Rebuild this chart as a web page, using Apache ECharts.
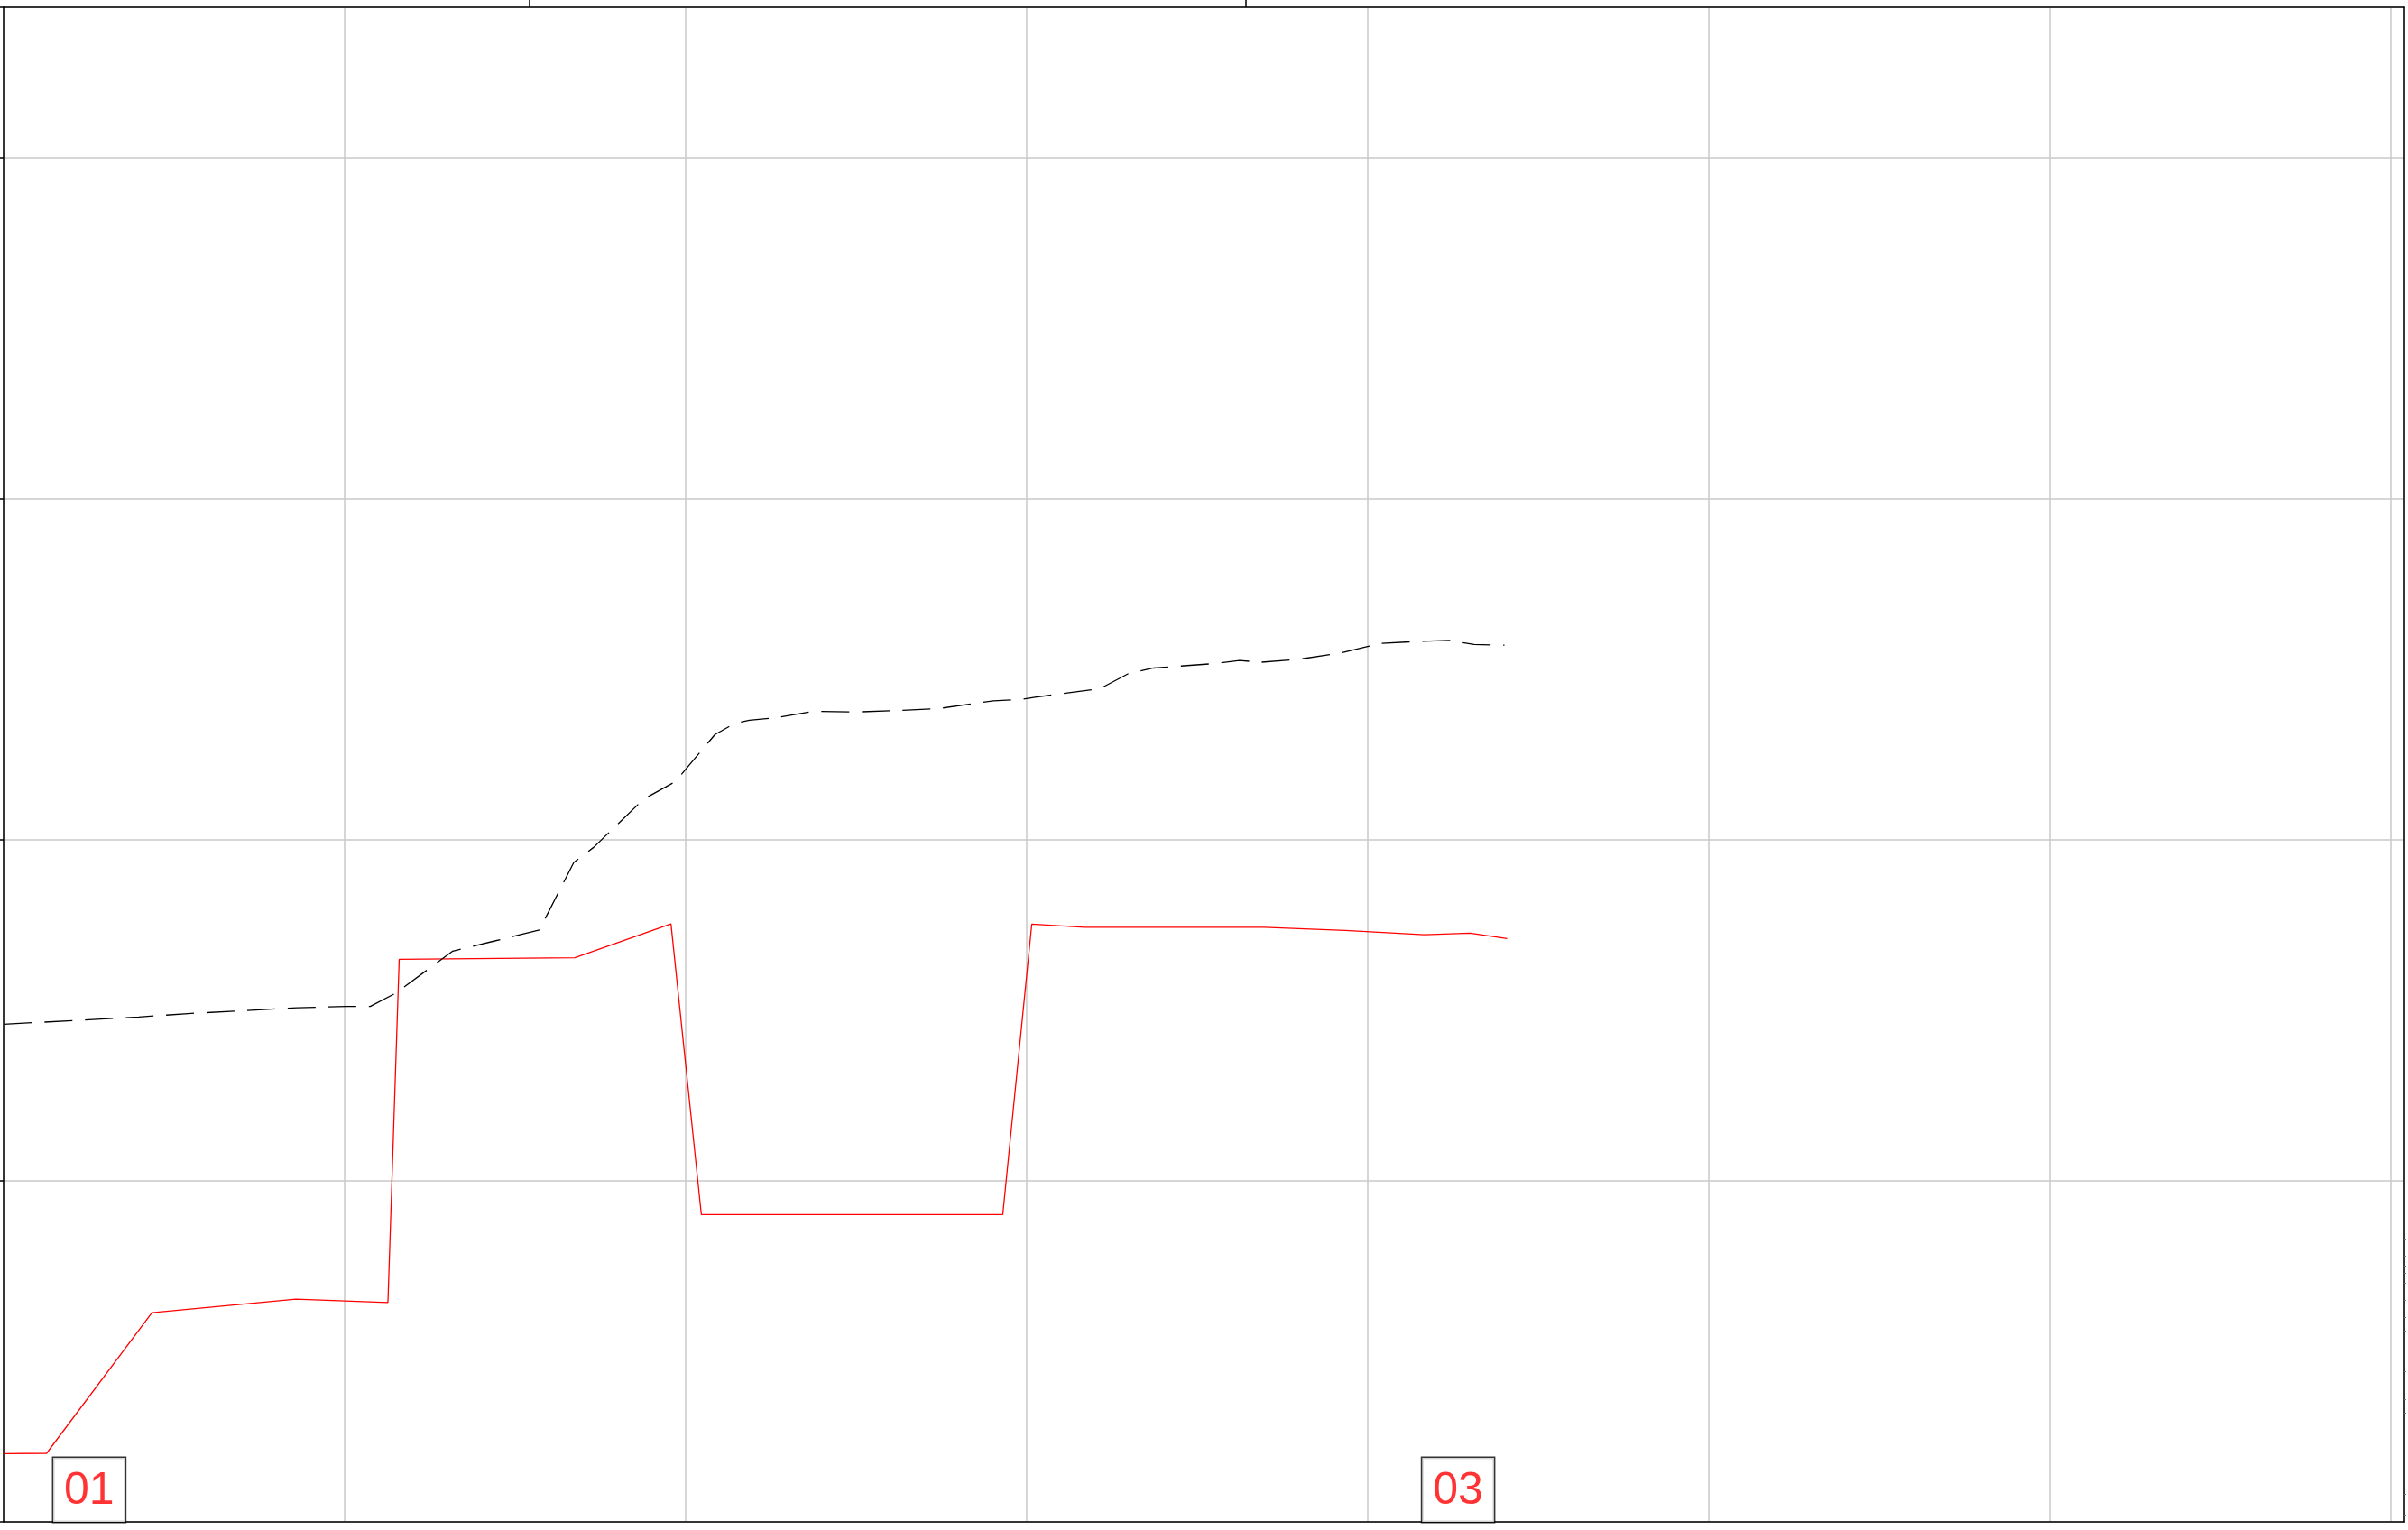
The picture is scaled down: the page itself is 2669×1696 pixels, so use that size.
<!DOCTYPE html>
<html lang="en">

<head>
    <meta charset="UTF-8">
    <title>line chart</title>
    <style>
        *{
            padding:0;
            margin:0;
        }
        html, body{
            background:#fff;
        }
    </style>
    <script type="text/javascript" src="https://cdn.jsdelivr.net/npm/echarts@6/dist/echarts.min.js"></script>
</head>

<body>
    <div id="main" style="width: 2669px;height:1696px;"></div>
    <script type="text/javascript">
        // red solid line
        var redX = [0.001, 0.126, 0.435, 0.857, 1.127, 1.160, 1.675, 1.957, 2.046, 2.930, 3.015, 3.170, 3.696, 3.934, 4.166, 4.300, 4.409];
        var redY = [0.200, 0.201, 0.613, 0.653, 0.643, 1.649, 1.654, 1.753, 0.901, 0.901, 1.752, 1.743, 1.743, 1.734, 1.721, 1.726, 1.710];

        // black dashed line
        var blackX = [0.001, 0.120, 0.236, 0.396, 0.541, 0.715, 0.860, 1.005, 1.075, 1.150, 1.317, 1.440, 1.571, 1.672, 1.730,
            1.876, 1.970, 2.086, 2.144, 2.187, 2.263, 2.376, 2.498, 2.611, 2.741, 2.903, 2.984, 3.029, 3.214, 3.299,
            3.372, 3.550, 3.624, 3.688, 3.794, 3.915, 4.037, 4.150, 4.239, 4.312, 4.401];
        var blackY = [1.459, 1.465, 1.471, 1.480, 1.490, 1.499, 1.507, 1.511, 1.511, 1.550, 1.673, 1.703, 1.735, 1.933, 1.977,
            2.118, 2.170, 2.308, 2.341, 2.350, 2.357, 2.376, 2.374, 2.378, 2.384, 2.407, 2.411, 2.418, 2.442, 2.487,
            2.503, 2.516, 2.525, 2.520, 2.528, 2.546, 2.575, 2.581, 2.584, 2.572, 2.570];

        // boxed labels on the bottom
        var tagNames = ["01", "03"];
        var tagX = [0.251, 4.265];

        // ticks on the top axis and the little marks on the right axis
        var topTicks = [1.542, 3.643];
        var rightTicks = [0.02, 0.08, 0.125, 0.18, 0.26, 0.32, 0.36, 0.44, 0.56, 0.60, 0.65, 0.70, 0.73, 0.75, 0.78, 0.83];

        var xMax = 7.04;
        var yMax = 4.44;

        function pairs(xs, ys) {
            return xs.map(function (v, i) {
                return [v, ys[i]];
            });
        }

        var myChart = echarts.init(document.getElementById('main'));

        // 轴线不要贴在零点上
        var axisLine = {
            show: true,
            onZero: false,
            lineStyle: {
                color: "#000",
                width: 1.5
            }
        };

        var option = {
            animation: false,
            backgroundColor: "#fff",
            textStyle: {
                fontFamily: "Liberation Sans, Arial, sans-serif"
            },
            grid: {
                left: 4,
                right: 4,
                top: 8,
                bottom: 9
            },
            xAxis: [{
                type: "value",
                position: "bottom",
                min: 0,
                max: xMax,
                interval: 1,
                axisLine: axisLine,
                axisTick: {
                    show: false
                },
                axisLabel: {
                    show: false
                },
                splitLine: {
                    show: true,
                    lineStyle: {
                        color: "#c8c8c8",
                        width: 1.5
                    }
                }
            }, {
                type: "value",
                position: "top",
                min: 0,
                max: xMax,
                axisLine: axisLine,
                axisTick: {
                    show: true,
                    length: 9,
                    customValues: topTicks,
                    lineStyle: {
                        color: "#000",
                        width: 1.5
                    }
                },
                axisLabel: {
                    show: false
                },
                splitLine: {
                    show: false
                }
            }],
            yAxis: [{
                type: "value",
                position: "left",
                min: 0,
                max: yMax,
                interval: 1,
                axisLine: axisLine,
                axisTick: {
                    show: true,
                    length: 5,
                    lineStyle: {
                        color: "#000",
                        width: 1.5
                    }
                },
                axisLabel: {
                    show: false
                },
                splitLine: {
                    show: true,
                    lineStyle: {
                        color: "#c8c8c8",
                        width: 1.5
                    }
                }
            }, {
                type: "value",
                position: "right",
                min: 0,
                max: yMax,
                axisLine: axisLine,
                axisTick: {
                    show: true,
                    length: 2,
                    customValues: rightTicks,
                    lineStyle: {
                        color: "#777",
                        width: 1
                    }
                },
                axisLabel: {
                    show: false
                },
                splitLine: {
                    show: false
                }
            }],
            series: [{
                name: "red",
                type: "line",
                data: pairs(redX, redY),
                symbol: "none",
                lineStyle: {
                    color: "#ff0000",
                    width: 1.3
                },
                z: 3
            }, {
                name: "black",
                type: "line",
                data: pairs(blackX, blackY),
                symbol: "none",
                lineStyle: {
                    color: "#000",
                    width: 1.3,
                    type: [31, 14]
                },
                z: 3
            }, {
                name: "tags",
                type: "scatter",
                symbolSize: 0,
                data: tagX.map(function (v, i) {
                    return {
                        name: tagNames[i],
                        value: [v, 0]
                    };
                }),
                label: {
                    show: true,
                    position: "top",
                    distance: 0,
                    formatter: "{b}",
                    color: "#ff0000",
                    fontSize: 50,
                    lineHeight: 50,
                    backgroundColor: "#fff",
                    borderColor: "#000",
                    borderWidth: 1.5,
                    padding: [12, 12, 9, 12]
                },
                z: 5
            }]
        };

        myChart.setOption(option);
    </script>
</body>

</html>
